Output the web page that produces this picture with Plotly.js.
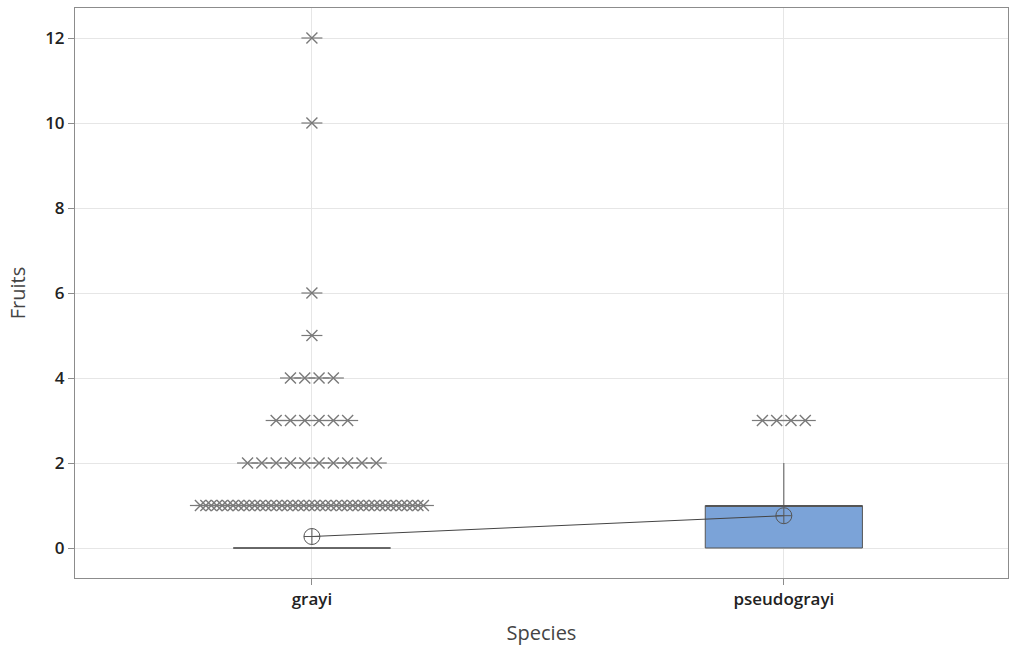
<!DOCTYPE html>
<html>
<head>
<meta charset="utf-8">
<script src="https://cdn.plot.ly/plotly-3.0.1.min.js"></script>
<style>html,body{margin:0;padding:0;background:#fff}#chart{width:1010px;height:650px}</style>
</head>
<body>
<div id="chart"></div>
<script>
// ---- data ----
const species = ["grayi", "pseudograyi"];
const q1 = [0, 0];
const median = [0, 1];
const q3 = [0, 1];
const lowerWhisker = [0, 0];
const upperWhisker = [0, 2];
const means = [0.27, 0.76];
// outliers: values and how many observations share each value
const grayiOutlierValues = [1, 2, 3, 4, 5, 6, 10, 12];
const grayiOutlierCounts = [42, 10, 6, 4, 1, 1, 1, 1];
const pseudoOutlierValues = [3];
const pseudoOutlierCounts = [4];

// ---- layout helpers ----
const positions = species.map((_, i) => i);
const boxWidth = 0.333;
const stepUnits = 0.0303;      // spacing between stacked symbols
const maxSpread = 0.4725;      // widest row of symbols

function dodge(center, values, counts) {
  const xs = [], ys = [];
  values.forEach((v, k) => {
    const n = counts[k];
    const step = n > 1 ? Math.min(stepUnits, maxSpread / (n - 1)) : 0;
    for (let j = 0; j < n; j++) {
      xs.push(center + (j - (n - 1) / 2) * step);
      ys.push(v);
    }
  });
  return {xs, ys};
}

const traces = [];
species.forEach((name, i) => {
  traces.push({
    type: "box",
    x: [positions[i]],
    q1: [q1[i]], median: [median[i]], q3: [q3[i]],
    lowerfence: [lowerWhisker[i]], upperfence: [upperWhisker[i]],
    width: boxWidth,
    whiskerwidth: 0,
    boxpoints: false,
    fillcolor: "#7BA3D8",
    line: {color: "#555555", width: 1},
    hoverinfo: "skip",
    showlegend: false
  });
});

const g = dodge(positions[0], grayiOutlierValues, grayiOutlierCounts);
const p = dodge(positions[1], pseudoOutlierValues, pseudoOutlierCounts);
const ox = g.xs.concat(p.xs), oy = g.ys.concat(p.ys);
// Minitab-style asterisk: an X with a horizontal bar
traces.push({
  type: "scatter", mode: "markers", x: ox, y: oy,
  marker: {symbol: "x-thin-open", size: 11, color: "#7a7a7a", line: {color: "#7a7a7a", width: 1.4}},
  showlegend: false, hoverinfo: "y"
});
traces.push({
  type: "scatter", mode: "markers", x: ox, y: oy,
  marker: {symbol: "line-ew-open", size: 15, color: "#7a7a7a", line: {color: "#7a7a7a", width: 1.2}},
  showlegend: false, hoverinfo: "skip"
});

traces.push({
  type: "scatter", mode: "lines+markers",
  x: positions, y: means,
  line: {color: "#444444", width: 1},
  marker: {symbol: "circle-cross-open", size: 16, color: "#555555", line: {color: "#555555", width: 1}},
  showlegend: false
});

const layout = {
  width: 1010, height: 650,
  margin: {l: 75, r: 2, t: 8, b: 72},
  paper_bgcolor: "#ffffff", plot_bgcolor: "#ffffff",
  font: {family: "Open Sans, Noto Sans, sans-serif", color: "#222"},
  xaxis: {
    range: [-0.502, 1.475],
    tickvals: positions, ticktext: species,
    showgrid: true, gridcolor: "#e6e6e6", gridwidth: 1,
    zeroline: false,
    showline: true, linecolor: "#8c8c8c", linewidth: 1, mirror: true,
    ticks: "outside", ticklen: 6, tickcolor: "#8c8c8c",
    tickfont: {size: 17, color: "#222", weight: 600},
    title: {text: "Species", font: {size: 20, color: "#444"}, standoff: 16}
  },
  yaxis: {
    range: [-0.706, 12.706],
    tickvals: [0, 2, 4, 6, 8, 10, 12],
    showgrid: true, gridcolor: "#e6e6e6", gridwidth: 1,
    zeroline: false,
    showline: true, linecolor: "#8c8c8c", linewidth: 1, mirror: true,
    ticks: "outside", ticklen: 6, tickcolor: "#8c8c8c",
    tickfont: {size: 17, color: "#222", weight: 600},
    title: {text: "Fruits", font: {size: 20, color: "#444"}, standoff: 14}
  }
};

Plotly.newPlot("chart", traces, layout, {displayModeBar: false, staticPlot: true});
</script>
</body>
</html>
